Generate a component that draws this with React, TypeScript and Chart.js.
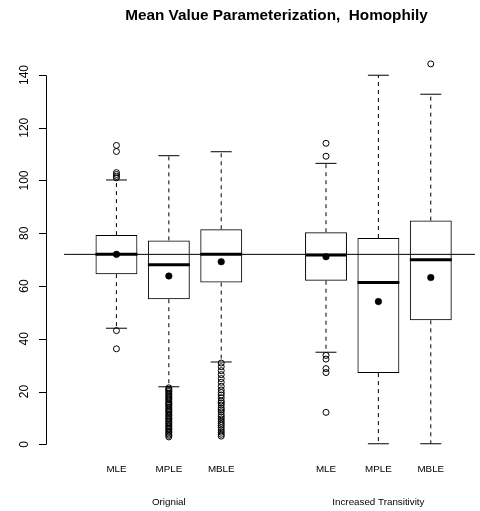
import React, { useEffect, useRef } from "react";
import { Chart, registerables } from "chart.js";

Chart.register(...registerables);

// ---------- data ----------
const chartTitle = "Mean Value Parameterization,  Homophily";
const methods = ["MLE", "MPLE", "MBLE", "MLE", "MPLE", "MBLE"];
const positions = [1, 2, 3, 5, 6, 7];
const groups = ["Orignial", "Increased Transitivity"];
const groupPositions = [2, 6];

const q1 = [64.5, 55.0, 61.3, 62.0, 27.0, 47.0];
const medians = [72.0, 68.1, 72.0, 71.8, 61.3, 70.0];
const q3 = [79.3, 77.3, 81.5, 80.4, 78.2, 84.8];
const whiskerLow = [44.0, 21.8, 31.2, 34.9, 0.2, 0.2];
const whiskerHigh = [100.2, 109.4, 110.9, 106.5, 139.9, 132.7];
const means = [72.0, 63.8, 69.2, 71.1, 54.1, 63.2];

const outliersMLE1 = [113.3, 111.0, 103.0, 102.3, 101.6, 101.0, 43.1, 36.2];
const outliersMPLE1 = [
  21.4, 20.9, 20.5, 20.0, 19.4, 18.9, 18.3, 17.8, 17.2, 16.8, 16.1, 15.6, 15.2,
  14.7, 14.1, 13.5, 13.0, 12.6, 12.0, 11.4, 10.9, 10.3, 9.8, 9.4, 8.8, 8.2, 7.7,
  7.1, 6.6, 6.1, 5.6, 5.0, 4.5, 3.9, 3.4, 2.8,
];
const outliersMBLE1 = [
  30.8, 29.4, 27.9, 26.4, 24.9, 23.5, 22.0, 20.6, 19.6, 18.7, 17.6, 16.4, 15.7,
  14.9, 13.8, 13.1, 12.3, 11.2, 10.4, 9.6, 8.7, 7.9, 7.2, 6.3, 5.4, 4.6, 3.8, 3.1,
];
const outliersMLE2 = [114.1, 109.2, 33.7, 32.3, 28.7, 27.2, 12.1];
const outliersMPLE2: number[] = [];
const outliersMBLE2 = [144.2];
const outliers = [outliersMLE1, outliersMPLE1, outliersMBLE1, outliersMLE2, outliersMPLE2, outliersMBLE2];

const referenceValue = 72;
const referenceSpan = [0, 8];
const yTicks = [0, 20, 40, 60, 80, 100, 120, 140];
const xRange = [-0.32, 7.844];
const yRange = [-5.5, 150];

// ---------- styling ----------
const FONT = '"Liberation Sans", Arial, Helvetica, sans-serif';
const INK = "#000000";

const rPlugin = {
  id: "rDecor",
  afterDraw(chart: any) {
    const ctx: CanvasRenderingContext2D = chart.ctx;
    const xs = chart.scales.x;
    const ys = chart.scales.y;
    const area = chart.chartArea;
    ctx.save();
    ctx.strokeStyle = INK;
    ctx.fillStyle = INK;
    ctx.lineWidth = 1;

    // y axis line and ticks
    const tickVals = ys.ticks.map((t: any) => t.value);
    const axX = Math.round(area.left) - 0.5;
    const yTop = ys.getPixelForValue(tickVals[tickVals.length - 1]);
    const yBot = ys.getPixelForValue(tickVals[0]);
    ctx.beginPath();
    ctx.moveTo(axX, Math.round(yTop) + 0.5);
    ctx.lineTo(axX, Math.round(yBot) + 0.5);
    ctx.stroke();
    ctx.font = `12px ${FONT}`;
    ctx.textAlign = "center";
    ctx.textBaseline = "alphabetic";
    tickVals.forEach((v: number) => {
      const py = Math.round(ys.getPixelForValue(v)) + 0.5;
      ctx.beginPath();
      ctx.moveTo(axX - 7.5, py);
      ctx.lineTo(axX, py);
      ctx.stroke();
      ctx.save();
      ctx.translate(axX - 18.5, ys.getPixelForValue(v));
      ctx.rotate(-Math.PI / 2);
      ctx.fillText(String(v), 0, 0);
      ctx.restore();
    });

    // method labels
    ctx.font = `9.8px ${FONT}`;
    methods.forEach((m, i) => {
      ctx.fillText(m, xs.getPixelForValue(positions[i]), 472);
    });
    // group labels
    groups.forEach((g, i) => {
      ctx.fillText(g, xs.getPixelForValue(groupPositions[i]), 504.5);
    });

    // title (centered on the plot region)
    ctx.font = `bold 15.3px ${FONT}`;
    ctx.fillText(chartTitle, 276.5, 20);
    ctx.restore();
  },
};

export default function App() {
  const ref = useRef<HTMLCanvasElement>(null);

  useEffect(() => {
    const canvas = ref.current;
    if (!canvas) return;

    const halfBox = (c: any) => {
      const s = c.chart.scales.x;
      return s.getPixelForValue(1.4) - s.getPixelForValue(1);
    };
    const halfCap = (c: any) => halfBox(c) / 2;

    const whiskerPts: any[] = [];
    positions.forEach((p, i) => {
      whiskerPts.push({ x: p, y: q3[i] }, { x: p, y: whiskerHigh[i] }, { x: p, y: null });
      whiskerPts.push({ x: p, y: q1[i] }, { x: p, y: whiskerLow[i] }, { x: p, y: null });
    });
    const capPts: any[] = [];
    positions.forEach((p, i) => {
      capPts.push({ x: p, y: whiskerHigh[i] }, { x: p, y: whiskerLow[i] });
    });
    const outlierPts: any[] = [];
    outliers.forEach((list, i) => list.forEach((v) => outlierPts.push({ x: positions[i], y: v })));

    const chart = new Chart(canvas, {
      type: "bar",
      data: {
        datasets: [
          {
            type: "scatter",
            label: "means",
            data: positions.map((p, i) => ({ x: p, y: means[i] })),
            pointRadius: 3.3,
            pointBackgroundColor: INK,
            pointBorderColor: INK,
            pointBorderWidth: 0.5,
            order: 0,
          } as any,
          {
            type: "line",
            label: "reference",
            data: referenceSpan.map((x) => ({ x, y: referenceValue })),
            borderColor: INK,
            borderWidth: 1,
            pointRadius: 0,
            order: 1,
          } as any,
          {
            type: "scatter",
            label: "medians",
            data: positions.map((p, i) => ({ x: p, y: medians[i] })),
            pointStyle: "line",
            pointRadius: halfBox,
            pointBorderColor: INK,
            pointBorderWidth: 3,
            order: 2,
          } as any,
          {
            type: "bar",
            label: "boxes",
            data: positions.map((p, i) => ({ x: p, y: [q1[i], q3[i]] })),
            backgroundColor: "rgba(0,0,0,0)",
            borderColor: INK,
            borderWidth: 1,
            borderSkipped: false,
            barPercentage: 0.8,
            categoryPercentage: 1,
            order: 3,
          } as any,
          {
            type: "line",
            label: "whiskers",
            data: whiskerPts,
            borderColor: INK,
            borderWidth: 1,
            borderDash: [4, 4],
            pointRadius: 0,
            spanGaps: false,
            order: 4,
          } as any,
          {
            type: "scatter",
            label: "caps",
            data: capPts,
            pointStyle: "line",
            pointRadius: halfCap,
            pointBorderColor: INK,
            pointBorderWidth: 1,
            order: 5,
          } as any,
          {
            type: "scatter",
            label: "outliers",
            data: outlierPts,
            pointRadius: 3,
            pointBackgroundColor: "rgba(0,0,0,0)",
            pointBorderColor: INK,
            pointBorderWidth: 1,
            order: 6,
          } as any,
        ],
      },
      options: {
        responsive: false,
        animation: false,
        events: [],
        layout: { padding: { left: 47.3, top: 48.6, right: 0, bottom: 52.2 } },
        plugins: { legend: { display: false }, tooltip: { enabled: false }, title: { display: false } },
        scales: {
          x: {
            type: "linear",
            min: xRange[0],
            max: xRange[1],
            offset: false,
            display: false,
            afterBuildTicks: (s: any) => {
              s.ticks = positions.map((v) => ({ value: v }));
            },
          },
          y: {
            type: "linear",
            min: yRange[0],
            max: yRange[1],
            display: false,
            afterBuildTicks: (s: any) => {
              s.ticks = yTicks.map((v) => ({ value: v }));
            },
          },
        },
      } as any,
      plugins: [rPlugin],
    });

    return () => chart.destroy();
  }, []);

  return (
    <div style={{ position: "fixed", left: 0, top: 0, width: 480, height: 511, background: "#ffffff" }}>
      <canvas ref={ref} width={480} height={511} style={{ display: "block" }} />
    </div>
  );
}
